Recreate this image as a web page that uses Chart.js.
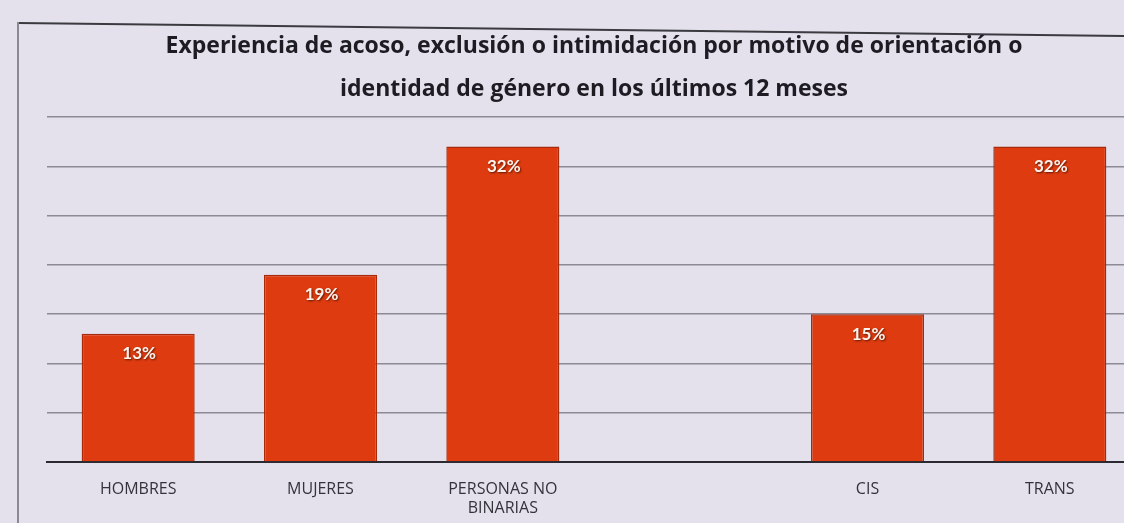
<!DOCTYPE html>
<html>
<head>
<meta charset="utf-8">
<script src="https://cdn.jsdelivr.net/npm/chart.js@4.4.1/dist/chart.umd.min.js"></script>
<style>
  html, body { margin: 0; padding: 0; background: #e4e0ec; overflow: hidden; }
  #wrap { position: relative; width: 1150px; height: 523px; }
  #bordeSup { position: absolute; left: 18px; top: 22px; width: 1130px; height: 0;
              border-top: 2px solid #3a3a40; transform: rotate(0.67deg); transform-origin: 0 0; }
  #bordeIzq { position: absolute; left: 17px; top: 22px; width: 0; height: 501px;
              border-left: 2px solid #8a8890; }
  canvas { position: absolute; left: 0; top: 0; }
</style>
</head>
<body>
<div id="wrap">
  <div id="bordeSup"></div>
  <div id="bordeIzq"></div>
  <canvas id="acoso" width="1150" height="523"></canvas>
</div>
<script>
var categorias = ['HOMBRES', 'MUJERES', ['PERSONAS NO', 'BINARIAS'], '', 'CIS', 'TRANS'];
var porcentajes = [13, 19, 32, null, 15, 32]; // % que vivió acoso
var marcasY = [0, 5, 10, 15, 20, 25, 30, 35];

// etiquetas blancas dentro de cada barra
var etiquetasBarras = {
    id: 'etiquetasBarras',
    afterDatasetsDraw: function(chart) {
        var ctx = chart.ctx;
        var meta = chart.getDatasetMeta(0);
        ctx.save();
        ctx.font = 'bold 17px Lato';
        ctx.textAlign = 'center';
        ctx.textBaseline = 'middle';
        meta.data.forEach(function(bar, i) {
            var v = porcentajes[i];
            if (v === null) return;
            ctx.shadowColor = 'rgba(90,20,0,0.95)';
            ctx.shadowBlur = 2;
            ctx.shadowOffsetX = 1;
            ctx.shadowOffsetY = 1;
            ctx.fillStyle = '#fff4ee';
            ctx.fillText(v + '%', bar.x + 1, bar.y + 20);
        });
        ctx.restore();
    }
};

var ctx = document.getElementById('acoso').getContext('2d');
var grafico = new Chart(ctx, {
    type: 'bar',
    data: {
        labels: categorias,
        datasets: [{
            data: porcentajes,
            backgroundColor: '#de3c10',
            borderColor: '#a82a0a',
            borderWidth: 1.5,
            categoryPercentage: 1,
            barPercentage: 0.62
        }]
    },
    options: {
        responsive: false,
        animation: false,
        layout: { padding: { left: 47, right: 9, top: 0, bottom: 5 } },
        plugins: {
            legend: { display: false },
            tooltip: { enabled: false },
            title: {
                display: true,
                text: ['Experiencia de acoso, exclusión o intimidación por motivo de orientación o',
                       'identidad de género en los últimos 12 meses'],
                color: '#1c1c22',
                font: { family: 'Open Sans', size: 23, weight: 'bold', lineHeight: 1.87 },
                padding: { top: 25, bottom: 6 }
            }
        },
        scales: {
            x: {
                grid: { display: false, drawTicks: false },
                border: { color: '#2a2a30', width: 2 },
                ticks: { color: '#33333a', font: { family: 'Open Sans', size: 16 }, padding: 18, maxRotation: 0 },
                afterFit: function(axis) { axis.height = 56; }
            },
            y: {
                min: 0,
                max: 35,
                afterBuildTicks: function(axis) {
                    axis.ticks = marcasY.map(function(v) { return { value: v }; });
                },
                grid: { color: '#8c8a94', lineWidth: 1.5, drawTicks: false },
                border: { display: false },
                ticks: { display: false }
            }
        }
    },
    plugins: [etiquetasBarras]
});
</script>
</body>
</html>
